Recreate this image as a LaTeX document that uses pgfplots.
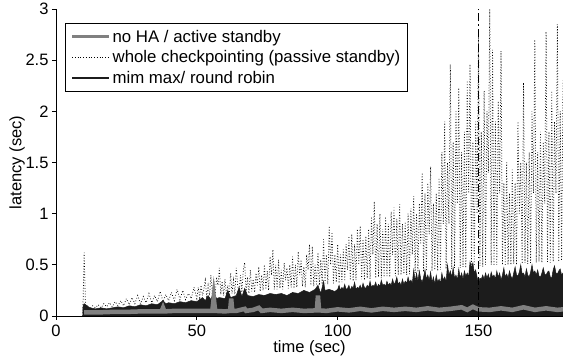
\documentclass[border=0pt]{standalone}
\usepackage{pgfplots}
\pgfplotsset{compat=1.18}
\usepackage{fontspec}
\setmainfont{Liberation Sans}
\definecolor{graycol}{RGB}{128,128,128}
\definecolor{blk}{RGB}{28,28,28}
\begin{document}
\begin{tikzpicture}
\begin{axis}[
  name=ax,
  at={(0,0)}, anchor=south west,
  width=507pt, height=307pt, scale only axis,
  xmin=0, xmax=180, ymin=0, ymax=3,
  axis lines*=left,
  axis line style={line width=0.8pt},
  xtick={0,50,100,150},
  ytick={0,0.5,1,1.5,2,2.5,3},
  tick align=outside,
  major tick length=4pt,
  tick style={line width=0.8pt, black},
  /pgf/number format/assume math mode=true,
  tick label style={font=\fontsize{16.5}{19}\selectfont},
  xticklabel style={yshift=-1pt},
  every axis x label/.style={at={(axis description cs:0.5,-0.104)}, anchor=center, font=\fontsize{16.5}{19}\selectfont},
  every axis y label/.style={at={(axis description cs:-0.0765,0.5)}, rotate=90, anchor=center, font=\fontsize{16.5}{19}\selectfont},
  xlabel={time (sec)},
  ylabel={latency (sec)},
  legend image code/.code={\draw[#1] (0pt,0pt) -- (37pt,0pt);},
  legend style={at={(0.018,0.954)}, anchor=north west, draw=black, line width=1pt,
    font=\fontsize{16.8}{19.5}\selectfont, inner xsep=5pt, inner ysep=4.5pt, row sep=2.7pt,
    legend cell align=left},
  clip=true,
]
\addlegendimage{line width=3pt, color=graycol}
\addlegendentry{no HA / active standby}
\addlegendimage{black, line width=0.75pt, dash pattern=on 0.75pt off 2pt}
\addlegendentry{whole checkpointing (passive standby)}
\addlegendimage{blk, line width=1.8pt}
\addlegendentry{mim max/ round robin}

% dotted series: whole checkpointing
\addplot[forget plot, black, line width=0.75pt, dash pattern=on 0.75pt off 2pt] coordinates {
(9.5,0.0) (10,0.62) (10.5,0.08) (11,0.1) (12,0.07) (13,0.1) (14,0.08) (15,0.11) (16,0.08) (17,0.12)
(18,0.09) (19,0.13) (20,0.09) (21,0.14) (22,0.1) (23,0.15) (24,0.1) (25,0.17) (26,0.11) (27,0.18)
(28,0.12) (29,0.2) (30,0.12) (31,0.19) (32,0.13) (33,0.22) (34,0.13) (35,0.2) (36,0.14) (37,0.24)
(38,0.14) (39,0.21) (40,0.15) (41,0.23) (42,0.15) (43,0.26) (44,0.16) (45,0.25) (46,0.16) (47,0.22)
(48,0.17) (49,0.28)
(50,0.17) (50.5,0.28) (51,0.18) (51.5,0.3) (52,0.2) (52.5,0.26) (53,0.35) (53.5,0.19) (54,0.3) (54.5,0.2)
(55,0.40) (55.5,0.22) (56,0.33) (56.5,0.2) (57,0.38) (57.5,0.3) (58,0.47) (58.5,0.21) (59,0.34) (59.5,0.2)
(60,0.36) (60.5,0.21) (61,0.3) (61.5,0.2) (62,0.42) (62.5,0.22) (63,0.35) (63.5,0.21) (64,0.47) (64.5,0.3)
(65,0.22) (65.5,0.4) (66,0.23) (66.5,0.45) (67,0.52) (67.5,0.23) (68,0.38) (68.5,0.22) (69,0.45) (69.5,0.24)
(70,0.36) (70.5,0.23) (71,0.42) (71.5,0.3) (72,0.48) (72.5,0.24) (73,0.4) (73.5,0.25) (74,0.5) (74.5,0.26)
(75,0.44) (75.5,0.25) (76,0.58) (76.5,0.4) (77,0.65) (77.5,0.26) (78,0.5) (78.5,0.26) (79,0.55) (79.5,0.27)
(80,0.45) (80.5,0.26) (81,0.52) (81.5,0.35) (82,0.47) (82.5,0.27) (83,0.5) (83.5,0.28) (84,0.58) (84.5,0.27)
(85,0.5) (85.5,0.28) (86,0.63) (86.5,0.4) (87,0.55) (87.5,0.29) (88,0.48) (88.5,0.28) (89,0.6) (89.5,0.45)
(90,0.7) (90.5,0.3) (91,0.68) (91.5,0.29) (92,0.5) (92.5,0.3) (93,0.62) (93.5,0.3) (94,0.55) (94.5,0.31)
(95,0.75) (95.5,0.32) (96,0.6) (96.5,0.31) (97,0.88) (97.5,0.5) (98,0.82) (98.5,0.32) (99,0.6) (99.5,0.33)
(100,0.7) (100.5,0.32) (101,0.6) (101.5,0.33) (102,0.65) (102.5,0.34) (103,0.7) (103.5,0.45) (104,0.78) (104.5,0.35)
(105,0.8) (105.5,0.34) (106,0.7) (106.5,0.35) (107,0.85) (107.5,0.5) (108,0.88) (108.5,0.36) (109,0.75) (109.5,0.35)
(110,0.78) (110.5,0.37) (111,0.85) (111.5,0.36) (112,0.97) (112.5,0.6) (113,1.12) (113.5,0.37) (114,0.9) (114.5,0.38)
(115,1.0) (115.5,0.37) (116,0.85) (116.5,0.38) (117,0.97) (117.5,0.39) (118,0.9) (118.5,0.38) (119,1.02) (119.5,0.6)
(120,1.06) (120.5,0.39) (121,0.95) (121.5,0.4) (122,1.09) (122.5,0.4) (123,0.9) (123.5,0.41) (124,0.92) (124.5,0.4)
(125,1.0) (125.5,0.41) (126,1.05) (126.5,0.6) (127,1.17) (127.5,0.42) (128,1.0) (128.5,0.43) (129,1.1) (129.5,0.7)
(130,1.40) (130.5,0.43) (131,1.2) (131.5,0.44) (132,1.3) (132.5,0.8) (133,1.46) (133.5,0.44) (134,1.1) (134.5,0.45)
(135,1.2) (135.5,0.44) (136,1.35) (136.5,0.45) (137,1.6) (137.5,0.9) (138,1.90) (138.5,0.46) (139,1.5) (139.5,0.9)
(140,2.46) (140.5,0.46) (141,1.7) (141.5,0.47) (142,2.0) (142.5,1.1) (143,2.23) (143.5,0.47) (144,1.6) (144.5,0.48)
(145,1.8) (145.5,0.47) (146,2.3) (146.5,1.2) (147,2.46) (147.5,0.48) (148,1.7) (148.5,0.49) (149,1.9) (149.5,1.0)
(150,2.74) (150.5,0.49) (151,1.8) (151.5,0.48) (152,2.2) (152.5,0.5) (153,2.0) (153.5,1.4) (154,3.0) (154.5,0.5)
(155,2.6) (155.5,0.49) (156,1.9) (156.5,0.5) (157,2.1) (157.5,1.2) (158,2.59) (158.5,0.5) (159,1.3) (159.5,0.49)
(160,1.5) (160.5,0.5) (161,1.2) (161.5,0.5) (162,1.43) (162.5,0.51) (163,1.3) (163.5,0.5) (164,1.9) (164.5,1.0)
(165,1.5) (165.5,0.51) (166,2.28) (166.5,0.52) (167,1.5) (167.5,0.51) (168,1.6) (168.5,0.52) (169,2.0) (169.5,1.2)
(170,2.7) (170.5,0.52) (171,1.6) (171.5,0.53) (172,1.8) (172.5,0.52) (173,1.7) (173.5,1.1) (174,2.78) (174.5,0.53)
(175,1.8) (175.5,0.52) (176,2.2) (176.5,0.53) (177,1.9) (177.5,1.2) (178,2.85) (178.5,0.53) (179,2.0) (179.5,0.54)
(180,2.3)
};

% black series: min max / round robin
\addplot[forget plot, draw=blk, fill=blk, line width=0.5pt] coordinates {
(9.5,0) (9.6,0.1) (10,0.12) (11,0.1) (12,0.08) (14,0.07) (16,0.08) (18,0.07) (20,0.08) (22,0.09)
(24,0.08) (26,0.1) (28,0.09) (30,0.11) (32,0.1) (34,0.12) (36,0.11) (38,0.15) (39,0.12) (40,0.13)
(42,0.12) (44,0.14) (46,0.13) (48,0.15) (50,0.14) (52,0.18) (53,0.15) (54,0.2) (55,0.16) (56,0.24)
(57,0.17) (58,0.18) (60,0.17) (61,0.25) (62,0.18) (64,0.2) (65,0.28) (66,0.19) (67,0.27) (68,0.2)
(70,0.19) (72,0.21) (74,0.2) (76,0.22) (78,0.21) (80,0.22) (82,0.2) (84,0.23) (86,0.22) (88,0.25)
(90,0.23) (92,0.26) (93,0.3) (94,0.22) (95,0.34) (95.5,0.25) (97,0.26) (99,0.24)
(100,0.26) (100.5,0.3) (101,0.25) (101.5,0.28) (102,0.26) (102.5,0.31) (103,0.26) (103.5,0.27) (104,0.3) (104.5,0.25)
(105,0.29) (105.5,0.27) (106,0.33) (106.5,0.26) (107,0.28) (107.5,0.27) (108,0.3) (108.5,0.26) (109,0.32) (109.5,0.28)
(110,0.27) (110.5,0.3) (111,0.28) (111.5,0.34) (112,0.28) (112.5,0.3) (113,0.29) (113.5,0.33) (114,0.28) (114.5,0.31)
(115,0.29) (115.5,0.35) (116,0.3) (116.5,0.31) (117,0.29) (117.5,0.34) (118,0.3) (118.5,0.32) (119,0.3) (119.5,0.36)
(120,0.31) (120.5,0.33) (121,0.38) (121.5,0.31) (122,0.33) (122.5,0.3) (123,0.36) (123.5,0.31) (124,0.34) (124.5,0.32)
(125,0.38) (125.5,0.33) (126,0.35) (126.5,0.32) (127,0.45) (127.5,0.34) (128,0.42) (128.5,0.34) (129,0.44) (129.5,0.36)
(130,0.33) (130.5,0.38) (131,0.45) (131.5,0.36) (132,0.4) (132.5,0.35) (133,0.43) (133.5,0.33) (134,0.38) (134.5,0.31)
(135,0.4) (135.5,0.33) (136,0.36) (136.5,0.32) (137,0.42) (137.5,0.35) (138,0.38) (138.5,0.34) (139,0.5) (139.5,0.4)
(140,0.44) (140.5,0.38) (141,0.47) (141.5,0.37) (142,0.4) (142.5,0.35) (143,0.46) (143.5,0.37) (144,0.42) (144.5,0.36)
(145,0.44) (145.5,0.39) (146,0.42) (146.5,0.38) (147,0.53) (147.5,0.47) (148,0.52) (148.5,0.42) (149,0.45) (149.5,0.38)
(150,0.32) (150.5,0.37) (151,0.36) (151.5,0.4) (152,0.36) (152.5,0.42) (153,0.37) (153.5,0.41) (154,0.35) (154.5,0.43)
(155,0.38) (155.5,0.4) (156,0.36) (156.5,0.44) (157,0.38) (157.5,0.42) (158,0.35) (158.5,0.4) (159,0.47) (159.5,0.38)
(160,0.41) (160.5,0.37) (161,0.44) (161.5,0.39) (162,0.36) (162.5,0.42) (163,0.48) (163.5,0.4) (164,0.39) (164.5,0.43)
(165,0.5) (165.5,0.41) (166,0.42) (166.5,0.38) (167,0.46) (167.5,0.4) (168,0.38) (168.5,0.43) (169,0.5) (169.5,0.42)
(170,0.44) (170.5,0.4) (171,0.45) (171.5,0.39) (172,0.38) (172.5,0.42) (173,0.47) (173.5,0.41) (174,0.4) (174.5,0.43)
(175,0.44) (175.5,0.38) (176,0.37) (176.5,0.45) (177,0.49) (177.5,0.42) (178,0.41) (178.5,0.44) (179,0.46) (179.5,0.4)
(180,0.42)
} \closedcycle;

% gray series: no HA / active standby
\addplot[forget plot, graycol, line width=4.5pt] coordinates {
(10,0.035) (12,0.035) (15,0.035) (20,0.04) (25,0.04) (30,0.045) (35,0.045) (37.5,0.045) (38,0.08) (38.5,0.045)
(42,0.05) (46,0.05) (50,0.05) (55.5,0.05) (56,0.18) (56.5,0.05) (60,0.045) (61.8,0.05) (62.2,0.17) (62.6,0.05)
(64,0.05) (67,0.07) (67.5,0.05) (70,0.06) (72,0.08) (73,0.05) (76,0.06) (80,0.05) (84,0.06) (88,0.05)
(92.6,0.055) (93,0.2) (93.4,0.055) (96,0.05) (100,0.065) (104,0.055) (108,0.07) (112,0.055) (116,0.07) (120,0.06)
(124,0.07) (128,0.06) (132,0.075) (136,0.06) (140,0.07) (144,0.085) (146,0.06) (148,0.09) (150,0.065) (154,0.06)
(158,0.075) (162,0.06) (166,0.085) (170,0.06) (174,0.075) (178,0.06) (180,0.065)
};

% vertical marker at t = 150
\addplot[forget plot, black, line width=0.8pt, dash pattern=on 8pt off 3pt on 1.5pt off 3pt] coordinates {(150,0) (150,3)};
\end{axis}
\pgfresetboundingbox
\path ([shift={(-56pt,-40pt)}]ax.south west) rectangle ([shift={(0pt,9pt)}]ax.north east);
\end{tikzpicture}
\end{document}
